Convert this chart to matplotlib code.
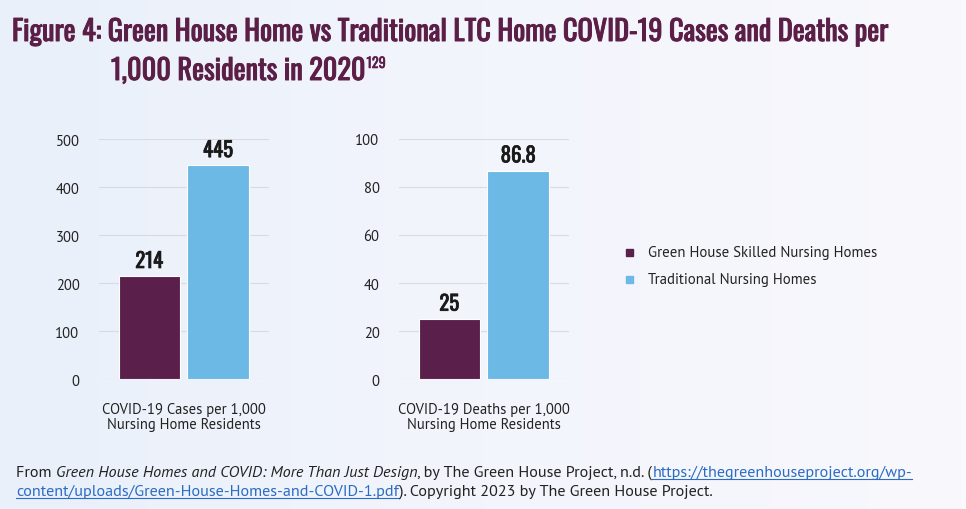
import numpy as np
import matplotlib.pyplot as plt
import matplotlib.patheffects as pe
from matplotlib.colors import LinearSegmentedColormap

# chart data
series = ['Green House Skilled Nursing Homes', 'Traditional Nursing Homes']
cases = [214, 445]
deaths = [25, 86.8]
case_labels = ['214', '445']
death_labels = ['25', '86.8']
panel_titles = ['COVID-19 Cases per 1,000\nNursing Home Residents',
                'COVID-19 Deaths per 1,000\nNursing Home Residents']
case_ticks = [0, 100, 200, 300, 400, 500]
death_ticks = [0, 20, 40, 60, 80, 100]

purple = '#5a1f4a'
blue = '#6cb9e6'
title_col = '#5b1f47'
cond = ['Oswald', 'DejaVu Sans']
body = ['PT Sans', 'DejaVu Sans']

W, H = 966, 510
fig = plt.figure(figsize=(W / 100, H / 100), dpi=100)
r = fig.canvas.get_renderer()


def fit(t, width_px):
    # scale a text's font size so it spans width_px
    w = t.get_window_extent(r).width
    t.set_fontsize(t.get_fontsize() * width_px / w)


def heavy(col, lw=0.7):
    return [pe.withStroke(linewidth=lw, foreground=col)]


# soft background gradient
bg = fig.add_axes([0, 0, 1, 1], zorder=-10)
grad = np.linspace(0, 1, 256).reshape(1, -1)
cmap = LinearSegmentedColormap.from_list('bg', ['#e9f0fa', '#f3f5fc', '#f8f8fd'])
bg.imshow(grad, aspect='auto', cmap=cmap, extent=[0, 1, 0, 1])
bg.axis('off')


def panel(left_px, values, labels, ticks, xlabel):
    ax = fig.add_axes([left_px / W, (H - 380) / H, 170 / W, 240 / H])
    ax.set_facecolor('none')
    ax.bar([0, 1], values, width=0.89, color=[purple, blue], edgecolor='white', linewidth=0.8, zorder=3)
    for x, v, s in zip([0, 1], values, labels):
        ax.text(x, v + ticks[-1] * 0.022, s, ha='center', va='bottom',
                fontsize=15, family=cond, color='#1a1a1a', path_effects=heavy('#1a1a1a', 0.5))
    ax.set_xlim(-0.73, 1.74)
    ax.set_ylim(0, ticks[-1])
    ax.set_yticks(ticks)
    ax.yaxis.grid(True, color='#d8dbe4', linewidth=0.8, zorder=0)
    ax.tick_params(axis='y', length=0, pad=14, labelsize=10.5, labelcolor='#222222')
    for lab in ax.get_yticklabels():
        lab.set_family(body)
    ax.set_xticks([])
    for sp in ax.spines.values():
        sp.set_visible(False)
    xl = ax.text(0.5, -0.095, xlabel, transform=ax.transAxes, ha='center', va='top',
                 fontsize=10.5, family=body, color='#222222', linespacing=1.15)
    return ax


panel(99, cases, case_labels, case_ticks, panel_titles[0])
panel(399, deaths, death_labels, death_ticks, panel_titles[1])

# legend
for i, (name, col) in enumerate(zip(series, [purple, blue])):
    y = 1 - (253 + 27 * i) / H
    fig.patches.append(plt.Rectangle((626 / W, y - 4 / H), 7 / W, 7 / H,
                                     transform=fig.transFigure, color=col, figure=fig))
    lt = fig.text(648 / W, y, name, ha='left', va='center', fontsize=10.5, family=body, color='#222222')
    if i == 0:
        fit(lt, 229)
        leg_size = lt.get_fontsize()
    else:
        lt.set_fontsize(leg_size)

# title
t1 = fig.text(12 / W, 1 - 42 / H,
              'Figure 4: Green House Home vs Traditional LTC Home COVID-19 Cases and Deaths per',
              fontsize=20, family=cond, color=title_col, va='baseline',
              path_effects=heavy(title_col))
fit(t1, 878)
t2 = fig.text(111 / W, 1 - 81 / H, '1,000 Residents in 2020', fontsize=t1.get_fontsize(),
              family=cond, color=title_col, va='baseline', path_effects=heavy(title_col))
x_sup = t2.get_window_extent(r).x1
fig.text((x_sup + 1) / W, 1 - 69 / H, '129', fontsize=t1.get_fontsize() * 0.5,
         family=cond, color=title_col, va='baseline', path_effects=heavy(title_col, 0.4))

# source footer with mixed styles
link = '#2b6cc4'
lines = [
    [('From ', 'normal', '#222222', False),
     ('Green House Homes and COVID: More Than Just Design', 'italic', '#222222', False),
     (', by The Green House Project, n.d. (', 'normal', '#222222', False),
     ('https://thegreenhouseproject.org/wp-', 'normal', link, True)],
    [('content/uploads/Green-House-Homes-and-COVID-1.pdf', 'normal', link, True),
     ('). Copyright 2023 by The Green House Project.', 'normal', '#222222', False)],
]
probe = fig.text(0, 0, ''.join(s for s, *_ in lines[0]), fontsize=10, family=body)
fit(probe, 920)
foot_size = probe.get_fontsize()
probe.remove()
for row, yb in zip(lines, [477, 496]):
    x = 16 / W
    for s, style, col, under in row:
        t = fig.text(x, 1 - yb / H, s, fontsize=foot_size, family=body, style=style,
                     color=col, va='baseline')
        bb = t.get_window_extent(r)
        if under:
            fig.add_artist(plt.Line2D([bb.x0 / W, bb.x1 / W], [1 - (yb + 3) / H] * 2,
                                      color=col, linewidth=0.8, transform=fig.transFigure))
        x = bb.x1 / W

fig.savefig('out.png', dpi=100)
